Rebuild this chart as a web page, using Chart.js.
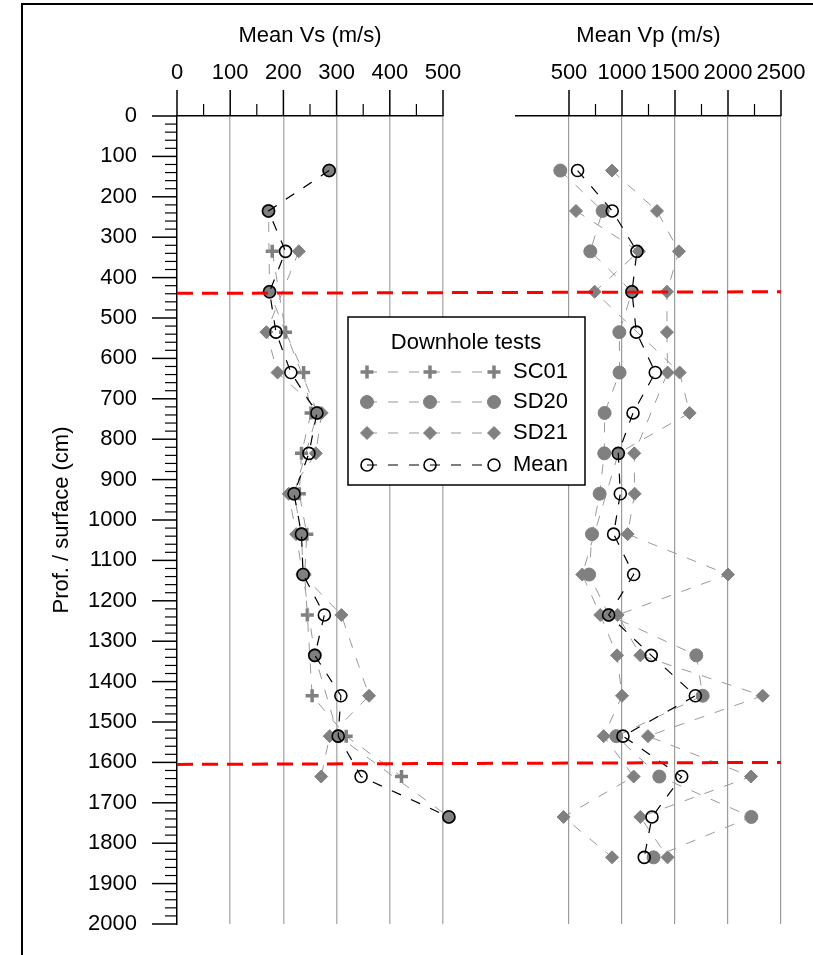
<!DOCTYPE html>
<html>
<head>
<meta charset="utf-8">
<title>Downhole tests - Vs / Vp</title>
<script src="https://cdn.jsdelivr.net/npm/chart.js@4.4.1/dist/chart.umd.min.js"></script>
<style>
  html, body { margin: 0; padding: 0; background: #fff; overflow: hidden; }
  #wrap { position: relative; width: 813px; height: 955px; }
  #wrap canvas { position: absolute; left: 0; top: 0; }
  #frame { position: absolute; left: 21px; top: 3px; width: 820px; height: 970px;
           border-left: 2px solid #000; border-top: 2px solid #000; }
</style>
</head>
<body>
<div id="wrap">
  <div id="frame"></div>
  <canvas id="vs_chart" width="813" height="955"></canvas>
  <canvas id="vp_chart" width="813" height="955"></canvas>
</div>
<script>
// depth of each measurement row (cm)
const depthCm = [135, 235, 335, 435, 535, 635, 735, 835, 935, 1035, 1135, 1235, 1335, 1435, 1535, 1635, 1735, 1835];

// shear wave velocity Vs (m/s), null = no reading at that depth
const vsSC01 = [null, null, 179, null, 204, 238, 252, 234, 230, 244, 240, 245, null, 254, 318, 422, null, null];
const vsSD20 = [286, 172, null, 174, null, null, 264, null, 220, 234, 237, null, 259, null, 303, null, 511, null];
const vsSD21 = [null, null, 229, null, 168, 189, 272, 261, 210, 224, 236, 309, null, 361, 287, 271, null, null];
const vsMean = [286, 172, 204, 174, 186, 214, 263, 248, 220, 234, 237, 277, 259, 308, 303, 346, 511, null];

// compression wave velocity Vp (m/s)
const vpSC01 = [null, 566, 1160, 742, null, 1544, 1638, 965, null, null, 625, 795, 953, 1000, 827, 1110, 449, 906];
const vpSD20 = [418, 817, 701, 1094, 975, 977, 836, 833, 789, 717, 690, 874, 1701, 1761, 946, 1352, 2220, 1298];
const vpSD21 = [906, 1330, 1537, 1424, 1424, 1430, null, 1116, 1119, 1053, 2000, 959, 1173, 2327, 1245, 2217, 1173, 1430];
const vpMean = [581, 908, 1141, 1094, 1135, 1314, 1104, 965, 984, 921, 1110, 874, 1276, 1692, 1009, 1563, 1283, 1210];

// layer boundaries (cm), left end / right end of each red line
const boundaryDepthLeft = [439, 1605];
const boundaryDepthRight = [435, 1600];

const seriesNames = ['SC01', 'SD20', 'SD21', 'Mean'];

Chart.defaults.font.family = '"Liberation Sans", Arial, Helvetica, sans-serif';
Chart.defaults.color = '#000';

const GRAY = '#808080';
const FONT = { size: 22 };

function toPoints(values) {
    const pts = [];
    values.forEach((v, i) => {
        if (v !== null) pts.push({ x: v, y: depthCm[i] });
    });
    return pts;
}

function makeDatasets(sc01, sd20, sd21, mean, sc01Style) {
    const common = { showLine: true, tension: 0, clip: false, pointHoverRadius: 0 };
    return [
        Object.assign({}, common, {
            label: seriesNames[0], data: toPoints(sc01), order: 3,
            pointStyle: sc01Style, pointRadius: 6.5,
            pointBorderWidth: sc01Style === 'cross' ? 3.5 : 1,
            pointBorderColor: GRAY, pointBackgroundColor: GRAY,
            borderColor: '#999', borderWidth: 1, borderDash: [10, 11]
        }),
        Object.assign({}, common, {
            label: seriesNames[1], data: toPoints(sd20), order: 1,
            pointStyle: 'circle', pointRadius: 6.5, pointBorderWidth: 1,
            pointBorderColor: GRAY, pointBackgroundColor: GRAY,
            borderColor: '#999', borderWidth: 1, borderDash: [10, 11]
        }),
        Object.assign({}, common, {
            label: seriesNames[2], data: toPoints(sd21), order: 2,
            pointStyle: 'rectRot', pointRadius: 6.5, pointBorderWidth: 1,
            pointBorderColor: GRAY, pointBackgroundColor: GRAY,
            borderColor: '#999', borderWidth: 1, borderDash: [10, 11]
        }),
        Object.assign({}, common, {
            label: seriesNames[3], data: toPoints(mean), order: 0,
            pointStyle: 'circle', pointRadius: 6, pointBorderWidth: 1.6,
            pointBorderColor: '#000', pointBackgroundColor: 'rgba(0,0,0,0)',
            borderColor: '#000', borderWidth: 1.2, borderDash: [10, 11]
        })
    ];
}

// drop the extra room chart.js keeps for edge labels, the plot box is set by layout.padding
function noEdgePadding(s) {
    s.paddingLeft = 0; s.paddingRight = 0; s.paddingTop = 0; s.paddingBottom = 0;
}

// tick marks: long ones on the labelled values, short ones in between
const axisTicks = {
    id: 'axisTicks',
    afterDraw(chart, args, opts) {
        const { ctx, chartArea } = chart;
        const xs = chart.scales.x, ys = chart.scales.y;
        ctx.save();
        ctx.strokeStyle = '#000';
        for (let v = opts.xFrom; v <= xs.max + 1e-6; v += opts.xMinor) {
            const major = v % opts.xMajor === 0;
            const px = xs.getPixelForValue(v);
            ctx.lineWidth = major ? 1.5 : 1.2;
            ctx.beginPath();
            ctx.moveTo(px, chartArea.top);
            ctx.lineTo(px, chartArea.top - (major ? 26 : 12));
            ctx.stroke();
        }
        if (opts.yMinor) {
            for (let v = ys.min; v <= ys.max + 1e-6; v += opts.yMinor) {
                const major = v % opts.yMajor === 0;
                const py = ys.getPixelForValue(v);
                ctx.lineWidth = major ? 1.5 : 1.2;
                ctx.beginPath();
                ctx.moveTo(chartArea.left, py);
                ctx.lineTo(chartArea.left - (major ? 25 : 12), py);
                ctx.stroke();
            }
        }
        ctx.restore();
    }
};

function xAxis(max, step, title, gridColor, gridWidth) {
    return {
        type: 'linear', position: 'top', min: 0, max: max,
        ticks: {
            stepSize: step, autoSkip: false, maxRotation: 0, padding: 30, font: FONT, color: '#000',
            callback: v => (v === 0 && max > 500) ? '' : String(v)
        },
        grid: {
            drawTicks: false, lineWidth: gridWidth,
            color: c => (c.tick && c.tick.value === 0) ? 'rgba(0,0,0,0)' : gridColor
        },
        border: { display: true, color: '#000', width: 1.5 },
        title: { display: true, text: title, font: FONT, color: '#000', padding: { top: 3, bottom: 0 } },
        afterFit: s => { s.height = 96; noEdgePadding(s); }
    };
}

const vsChart = new Chart(document.getElementById('vs_chart'), {
    type: 'scatter',
    data: { datasets: makeDatasets(vsSC01, vsSD20, vsSD21, vsMean, 'cross') },
    options: {
        responsive: false, animation: false, events: [],
        layout: { padding: { left: 40, right: 370, top: 20, bottom: 31 } },
        plugins: {
            legend: { display: false }, tooltip: { enabled: false },
            axisTicks: { xFrom: 0, xMajor: 100, xMinor: 50, yMajor: 100, yMinor: 20 }
        },
        scales: {
            x: xAxis(500, 100, 'Mean Vs (m/s)', 'rgb(180,180,180)', 1.5),
            y: {
                type: 'linear', reverse: true, min: 0, max: 2000,
                ticks: { stepSize: 100, autoSkip: false, padding: 40, font: FONT, color: '#000', callback: v => String(v) },
                grid: { display: false, drawTicks: false },
                border: { display: true, color: '#000', width: 1.5 },
                title: { display: true, text: 'Prof. / surface (cm)', font: FONT, color: '#000', padding: { top: 9, bottom: 0 } },
                afterFit: s => { s.width = 137; noEdgePadding(s); }
            }
        }
    },
    plugins: [axisTicks]
});

// red layer boundaries across both panels, and the shared legend box
const overlay = {
    id: 'overlay',
    afterDraw(chart) {
        const ctx = chart.ctx;
        const ys = chart.scales.y;
        const xLeft = vsChart.scales.x.getPixelForValue(0);
        const xRight = chart.scales.x.getPixelForValue(2500);

        ctx.save();
        ctx.strokeStyle = '#ff0000';
        ctx.lineWidth = 3;
        ctx.setLineDash([16, 9]);
        boundaryDepthLeft.forEach((d, i) => {
            ctx.beginPath();
            ctx.moveTo(xLeft, ys.getPixelForValue(d));
            ctx.lineTo(xRight, ys.getPixelForValue(boundaryDepthRight[i]));
            ctx.stroke();
        });
        ctx.restore();

        // legend
        const box = { x: 348, y: 317, w: 237, h: 168 };
        ctx.save();
        ctx.fillStyle = '#fff';
        ctx.fillRect(box.x, box.y, box.w, box.h);
        ctx.strokeStyle = '#000';
        ctx.lineWidth = 1.5;
        ctx.strokeRect(box.x, box.y, box.w, box.h);

        ctx.font = '22px "Liberation Sans", Arial, sans-serif';
        ctx.fillStyle = '#000';
        ctx.textBaseline = 'middle';
        ctx.textAlign = 'center';
        ctx.fillText('Downhole tests', 466, 343);

        const rowY = [372, 402, 433, 465];
        const markX = [367, 430, 494];
        vsChart.data.datasets.forEach((ds, i) => {
            const y = rowY[i];
            ctx.setLineDash(ds.borderDash);
            ctx.strokeStyle = ds.borderColor;
            ctx.lineWidth = ds.borderWidth;
            ctx.beginPath();
            ctx.moveTo(markX[0], y);
            ctx.lineTo(markX[2] - ds.pointRadius, y);
            ctx.stroke();
            ctx.setLineDash([]);
            markX.forEach(x => {
                ctx.fillStyle = ds.pointBackgroundColor;
                ctx.strokeStyle = ds.pointBorderColor;
                ctx.lineWidth = ds.pointBorderWidth;
                Chart.helpers.drawPoint(ctx, {
                    pointStyle: ds.pointStyle, radius: ds.pointRadius,
                    borderWidth: ds.pointBorderWidth, rotation: 0
                }, x, y);
            });
            ctx.fillStyle = '#000';
            ctx.textAlign = 'left';
            ctx.fillText(ds.label, 513, y);
        });
        ctx.restore();
    }
};

const vpChart = new Chart(document.getElementById('vp_chart'), {
    type: 'scatter',
    data: { datasets: makeDatasets(vpSC01, vpSD20, vpSD21, vpMean, 'rectRot') },
    options: {
        responsive: false, animation: false, events: [],
        layout: { padding: { left: 516, right: 32, top: 20, bottom: 31 } },
        plugins: {
            legend: { display: false }, tooltip: { enabled: false },
            axisTicks: { xFrom: 500, xMajor: 500, xMinor: 250 }
        },
        scales: {
            x: xAxis(2500, 500, 'Mean Vp (m/s)', 'rgb(155,155,155)', 1.2),
            y: {
                type: 'linear', reverse: true, min: 0, max: 2000, display: false,
                afterFit: s => { noEdgePadding(s); }
            }
        }
    },
    plugins: [axisTicks, overlay]
});
</script>
</body>
</html>
